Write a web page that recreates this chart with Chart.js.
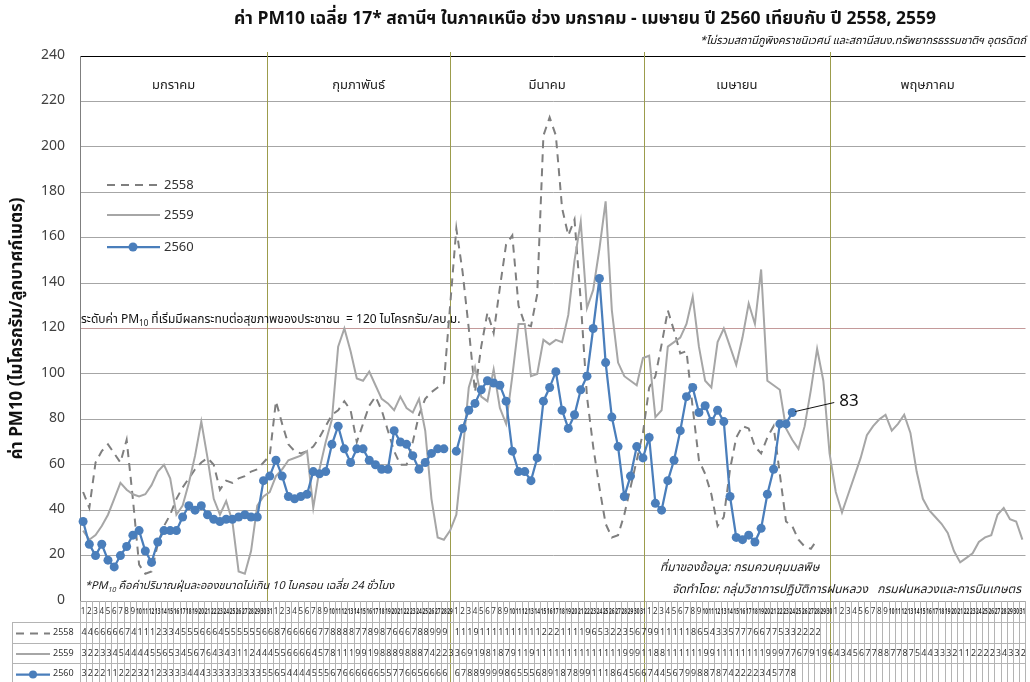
<!DOCTYPE html>
<html>
<head>
<meta charset="utf-8">
<script src="https://cdn.jsdelivr.net/npm/chart.js@4/dist/chart.umd.min.js"></script>
<style>
  html, body { margin: 0; padding: 0; background: #fff; }
</style>
</head>
<body>
<canvas id="pm10" width="1030" height="682"></canvas>
<script>
// category axis: day of month, Jan - May (Feb shows 29 slots)
const monthNames = ['มกราคม', 'กุมภาพันธ์', 'มีนาคม', 'เมษายน', 'พฤษภาคม'];
const monthDays = [31, 29, 31, 30, 31];
const dayLabels = monthDays.flatMap(n => Array.from({ length: n }, (_, i) => String(i + 1)));

const seriesNames = ['2558', '2559', '2560'];

// ค่า PM10 เฉลี่ยรายวัน (ug/m3)
const pm2558 = [
  48, 41, 61, 66, 69, 65, 61, 71, 45, 16, 12, 13, 25, 33, 38, 45, 50, 54, 58, 61, 63, 60, 49, 53, 52, 54, 55, 57, 58, 61, 64,
  88, 78, 69, 66, 65, 66, 68, 72, 77, 82, 84, 88, 84, 70, 78, 86, 90, 84, 75, 66, 60, 60, 70, 82, 89, 92, 94, 96, null,
  164, 145, 120, 92, 112, 127, 118, 138, 157, 161, 130, 122, 121, 135, 205, 213, 205, 173, 161, 168, 132, 90, 68, 50, 34, 28, 29, 38, 50, 62, 74,
  94, 99, 113, 128, 119, 109, 110, 85, 62, 56, 47, 33, 37, 58, 72, 77, 76, 68, 65, 72, 77, 56, 35, 33, 27, 24, 23, 27
];
const pm2559 = [
  31, 27, 29, 33, 38, 45, 52, 49, 47, 46, 47, 51, 57, 60, 54, 38, 42, 52, 64, 79, 63, 45, 38, 44, 35, 13, 12, 22, 42, 46, 48,
  55, 58, 62, 63, 64, 66, 41, 58, 70, 80, 112, 120, 110, 98, 97, 101, 95, 89, 87, 84, 90, 85, 83, 89, 75, 45, 28, 27, 31,
  38, 65, 94, 103, 90, 88, 102, 85, 78, 99, 122, 122, 99, 100, 115, 113, 115, 114, 126, 150, 167, 129, 137, 155, 176, 128, 105, 99, 97, 95, 107,
  108, 81, 84, 112, 114, 116, 122, 134, 112, 97, 94, 114, 120, 112, 104, 116, 131, 122, 146, 97, 95, 93, 76, 71, 67, 77, 93, 111, 97, 65,
  48, 39, 47, 55, 63, 73, 77, 80, 82, 75, 78, 82, 74, 57, 45, 40, 37, 34, 30, 22, 17, 19, 21, 26, 28, 29, 38, 41, 36, 35, 27
];
const pm2560 = [
  35, 25, 20, 25, 18, 15, 20, 24, 29, 31, 22, 17, 26, 31, 31, 31, 37, 42, 40, 42, 38, 36, 35, 36, 36, 37, 38, 37, 37, 53, 55,
  62, 55, 46, 45, 46, 47, 57, 56, 57, 69, 77, 67, 61, 67, 67, 62, 60, 58, 58, 75, 70, 69, 64, 58, 61, 65, 67, 67, null,
  66, 76, 84, 87, 93, 97, 96, 95, 88, 66, 57, 57, 53, 63, 88, 94, 101, 84, 76, 82, 93, 99, 120, 142, 105, 81, 68, 46, 55, 68, 63,
  72, 43, 40, 53, 62, 75, 90, 94, 83, 86, 79, 84, 79, 46, 28, 27, 29, 26, 32, 47, 58, 78, 78, 83
];

const healthLimit = 120;
const lastValueLabel = '83';

const FONT = 'Tahoma, "Noto Sans Thai", "Leelawadee UI", "DejaVu Sans", sans-serif';
const colors = { d2558: '#7f7f7f', d2559: '#a6a6a6', d2560: '#4a7ebb' };

// month splits measured on the source picture, in category units
const monthSplits = [29.6, 59.0, 90.2, 120.0];

function textWithSub(ctx, parts, x, y) {
  // parts: [text, isSub]
  let cx = x;
  const base = ctx.font;
  parts.forEach(([t, sub]) => {
    if (sub) {
      const m = base.match(/(\d+)px/);
      const size = m ? Math.round(parseInt(m[1]) * 0.65) : 8;
      ctx.font = base.replace(/\d+px/, size + 'px');
      ctx.fillText(t, cx, y + 3);
      cx += ctx.measureText(t).width;
      ctx.font = base;
    } else {
      ctx.fillText(t, cx, y);
      cx += ctx.measureText(t).width;
    }
  });
}

const decorPlugin = {
  id: 'decor',
  beforeDatasetsDraw(chart) {
    const { ctx, chartArea: a, scales: { x } } = chart;
    const w = x.getPixelForValue(1) - x.getPixelForValue(0);
    const x0 = x.getPixelForValue(0);
    ctx.save();

    // month dividers
    ctx.strokeStyle = '#9c9c4c';
    ctx.lineWidth = 1;
    monthSplits.forEach(s => {
      const px = Math.round(x0 + s * w) + 0.5;
      ctx.beginPath();
      ctx.moveTo(px, a.top - 4);
      ctx.lineTo(px, 682);
      ctx.stroke();
    });

    // month names
    const edges = [a.left, ...monthSplits.map(s => x0 + s * w), a.right];
    ctx.fillStyle = '#222';
    ctx.font = '13px ' + FONT;
    ctx.textAlign = 'center';
    ctx.textBaseline = 'middle';
    monthNames.forEach((m, i) => ctx.fillText(m, (edges[i] + edges[i + 1]) / 2, 86));

    // health limit note
    ctx.textAlign = 'left';
    ctx.textBaseline = 'alphabetic';
    ctx.font = '12px ' + FONT;
    ctx.fillStyle = '#111';
    textWithSub(ctx, [['ระดับค่า PM', false], ['10', true],
      [' ที่เริ่มมีผลกระทบต่อสุขภาพของประชาชน  = ' + healthLimit + ' ไมโครกรัม/ลบ.ม.', false]], 81, 323);

    // foot notes
    ctx.font = 'italic 11px ' + FONT;
    ctx.fillStyle = '#222';
    textWithSub(ctx, [['*PM', false], ['10', true], [' คือค่าปริมาณฝุ่นละอองขนาดไม่เกิน 10 ไมครอน เฉลี่ย 24 ชั่วโมง', false]], 85, 589);
    ctx.font = 'italic 12px ' + FONT;
    ctx.fillText('ที่มาของข้อมูล: กรมควบคุมมลพิษ', 660, 571);
    ctx.fillText('จัดทำโดย: กลุ่มวิชาการปฏิบัติการฝนหลวง   กรมฝนหลวงและการบินเกษตร', 672, 593);

    // legend inside the plot
    const ly = [185, 215, 247];
    const ds = chart.data.datasets;
    ds.forEach((d, i) => {
      ctx.strokeStyle = d.borderColor;
      ctx.lineWidth = d.borderWidth;
      ctx.setLineDash(d.borderDash || []);
      ctx.beginPath();
      ctx.moveTo(107, ly[i]);
      ctx.lineTo(160, ly[i]);
      ctx.stroke();
      ctx.setLineDash([]);
      if (d.pointRadius) {
        ctx.fillStyle = d.pointBackgroundColor;
        ctx.beginPath();
        ctx.arc(133, ly[i], d.pointRadius, 0, Math.PI * 2);
        ctx.fill();
      }
      ctx.fillStyle = '#333';
      ctx.font = '13px ' + FONT;
      ctx.textBaseline = 'middle';
      ctx.fillText(d.label, 164, ly[i] + 1);
    });
    ctx.restore();
  },
  afterDraw(chart) {
    const { ctx, chartArea: a, scales: { x } } = chart;
    const w = x.getPixelForValue(1) - x.getPixelForValue(0);
    ctx.save();

    // title
    ctx.fillStyle = '#111';
    ctx.textAlign = 'center';
    ctx.textBaseline = 'middle';
    ctx.font = 'bold 17.5px ' + FONT;
    ctx.fillText('ค่า PM10 เฉลี่ย 17* สถานีฯ ในภาคเหนือ ช่วง มกราคม - เมษายน ปี 2560 เทียบกับ ปี 2558, 2559', 585, 20);
    ctx.font = 'italic 11px ' + FONT;
    ctx.textAlign = 'right';
    ctx.fillText('*ไม่รวมสถานีภูพิงคราชนิเวศน์ และสถานีสนง.ทรัพยากรธรรมชาติฯ อุตรดิตถ์', 1026, 42);

    // label on last 2560 point
    const meta = chart.getDatasetMeta(2);
    const last = meta.data[pm2560.length - 1];
    ctx.strokeStyle = '#111';
    ctx.lineWidth = 1;
    ctx.beginPath();
    ctx.moveTo(last.x + 3, last.y - 1);
    ctx.lineTo(last.x + 42, last.y - 10);
    ctx.stroke();
    ctx.font = '17px ' + FONT;
    ctx.textAlign = 'left';
    ctx.fillText(lastValueLabel, last.x + 47, last.y - 10);

    // data table under the plot
    const top = a.bottom;
    const rowY = [top, top + 21, top + 42, top + 62, 684];
    ctx.strokeStyle = '#b4b4b4';
    ctx.lineWidth = 1;
    for (let i = 0; i <= dayLabels.length; i++) {
      const px = Math.round(a.left + i * w) + 0.5;
      ctx.beginPath();
      ctx.moveTo(px, top);
      ctx.lineTo(px, 682);
      ctx.stroke();
    }
    [1, 2, 3].forEach(r => {
      ctx.beginPath();
      ctx.moveTo(12, Math.round(rowY[r]) + 0.5);
      ctx.lineTo(a.right, Math.round(rowY[r]) + 0.5);
      ctx.stroke();
    });
    ctx.beginPath();
    ctx.moveTo(12.5, rowY[1]);
    ctx.lineTo(12.5, 682);
    ctx.stroke();

    // header: day numbers
    ctx.fillStyle = '#333';
    ctx.textBaseline = 'middle';
    ctx.textAlign = 'center';
    dayLabels.forEach((d, i) => {
      const cx = a.left + (i + 0.5) * w;
      const cy = (rowY[0] + rowY[1]) / 2 + 1;
      ctx.save();
      if (d.length > 1) {
        ctx.font = 'bold 8px ' + FONT;
        ctx.translate(cx, cy);
        ctx.scale(0.6, 1);
        ctx.fillText(d, 0, 0);
      } else {
        ctx.font = '8px ' + FONT;
        ctx.fillText(d, cx, cy);
      }
      ctx.restore();
    });

    // rows
    const ds = chart.data.datasets;
    ds.forEach((d, r) => {
      const y0 = rowY[r + 1], y1 = rowY[r + 2];
      const cy = (y0 + y1) / 2 + 1;
      // key
      ctx.strokeStyle = d.borderColor;
      ctx.lineWidth = d.borderWidth;
      ctx.setLineDash(d.borderDash || []);
      ctx.beginPath();
      ctx.moveTo(16, cy);
      ctx.lineTo(50, cy);
      ctx.stroke();
      ctx.setLineDash([]);
      if (d.pointRadius) {
        ctx.fillStyle = d.pointBackgroundColor;
        ctx.beginPath();
        ctx.arc(33, cy, 4, 0, Math.PI * 2);
        ctx.fill();
      }
      ctx.fillStyle = '#333';
      ctx.font = '9px ' + FONT;
      ctx.textAlign = 'left';
      ctx.fillText(d.label, 53, cy);
      // values, clipped to the cell like the spreadsheet does
      d.data.forEach((v, i) => {
        if (v === null || v === undefined) return;
        const cl = a.left + i * w;
        ctx.save();
        ctx.beginPath();
        ctx.rect(cl + 1, y0, w - 1, y1 - y0);
        ctx.clip();
        ctx.fillText(String(v), cl + 1.5, cy);
        ctx.restore();
      });
    });
    ctx.restore();
  }
};

const ctx = document.getElementById('pm10').getContext('2d');
new Chart(ctx, {
  type: 'line',
  data: {
    labels: dayLabels,
    datasets: [
      {
        label: seriesNames[0],
        data: pm2558,
        borderColor: colors.d2558,
        borderWidth: 2,
        borderDash: [8, 6],
        pointRadius: 0,
        spanGaps: true,
        order: 3,
      },
      {
        label: seriesNames[1],
        data: pm2559,
        borderColor: colors.d2559,
        borderWidth: 2,
        pointRadius: 0,
        order: 2,
      },
      {
        label: seriesNames[2],
        data: pm2560,
        borderColor: colors.d2560,
        borderWidth: 2.25,
        pointRadius: 4.5,
        pointBackgroundColor: colors.d2560,
        pointBorderWidth: 0,
        spanGaps: false,
        order: 1,
      },
    ],
  },
  options: {
    responsive: false,
    animation: false,
    events: [],
    layout: { padding: { top: 56, bottom: 81, left: 0, right: 0 } },
    plugins: {
      legend: { display: false },
      tooltip: { enabled: false },
    },
    elements: { line: { tension: 0 } },
    scales: {
      x: {
        type: 'category',
        display: false,
        offset: true,
      },
      y: {
        min: 0,
        max: 240,
        ticks: {
          stepSize: 20,
          padding: 15,
          color: '#404040',
          font: { size: 14, family: FONT },
        },
        grid: {
          drawTicks: false,
          lineWidth: 1,
          color: c => c.tick.value === 240 ? '#000' : (c.tick.value === healthLimit ? '#c49a9a' : '#a6a6a6'),
        },
        border: { display: true, color: '#7f7f7f' },
        title: {
          display: true,
          text: 'ค่า PM10 (ไมโครกรัม/ลูกบาศก์เมตร)',
          color: '#111',
          font: { size: 17, weight: 'bold', family: FONT },
          padding: { top: 8, bottom: 0 },
        },
        afterFit(scale) { scale.width = 80; },
      },
    },
  },
  plugins: [decorPlugin],
});
</script>
</body>
</html>
